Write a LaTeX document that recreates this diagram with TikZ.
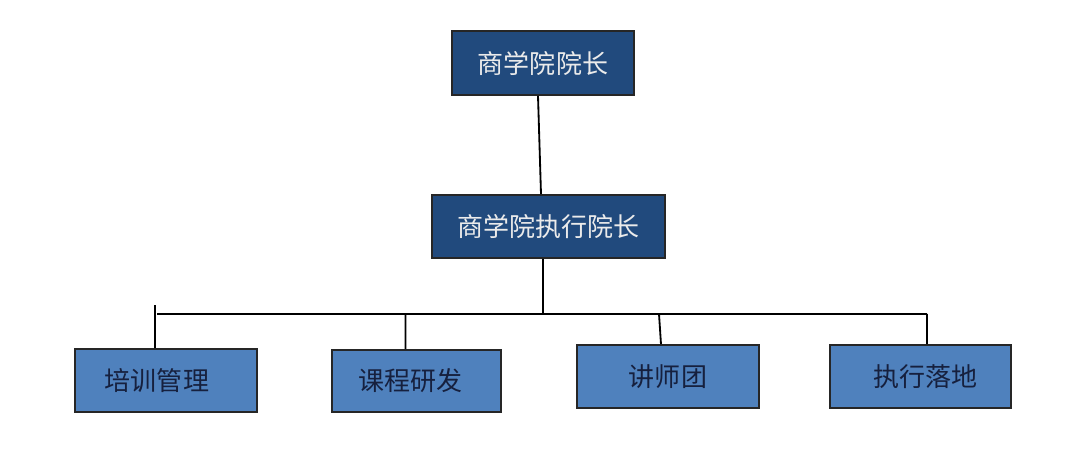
\documentclass[tikz,border=0pt]{standalone}
\usepackage{fontspec}
\newfontfamily\cjk{Noto Sans CJK SC}
\usetikzlibrary{positioning, calc}
\definecolor{darkbox}{RGB}{33,74,125}
\definecolor{lightbox}{RGB}{79,129,189}
\definecolor{navytext}{RGB}{22,32,62}
\tikzset{
  orgchart/.style={
	x=0.025cm, y=-0.025cm, % one unit is one pixel of the picture
	line width=1.3pt, % width of the connectors
	every node/.style={font=\cjk\fontsize{18.5}{20}\selectfont, inner sep=0pt},
  },
  headbox/.style={draw=black!85, line width=1.2pt, fill=darkbox, text=white!92!black, minimum height=1.6cm},
  unitbox/.style={draw=black!85, line width=1.2pt, fill=lightbox, text=navytext, minimum height=1.575cm},
}
\begin{document}
\begin{tikzpicture}[orgchart]
\useasboundingbox[fill=white] (0,0) rectangle (1080,466);
\node[headbox, minimum width=4.55cm] (dean) at (543,63) {商学院院长};
\node[headbox, minimum width=5.825cm, minimum height=1.575cm] (exec) at (548.5,226.5) {商学院执行院长};
\node[unitbox, minimum width=4.55cm] (train) at (166,380.5) {\hspace*{-0.45cm}培训管理};
\node[unitbox, minimum width=4.225cm, minimum height=1.55cm] (course) at (416.5,381) {\hspace*{-0.3cm}课程研发};
\node[unitbox, minimum width=4.55cm] (lect) at (668,376.5) {讲师团};
\node[unitbox, minimum width=4.525cm] (exe) at (920.5,376.5) {\hspace*{0.25cm}执行落地};

\coordinate (bus) at (543,314);
\coordinate (busl) at (157,314);
\coordinate (busr) at (927,314);
\coordinate (tickl) at (155,305);

\draw   ($(dean.south)+(-5,0)$) -- ($(exec.north)+(-7.5,0)$)
	(exec.south -| bus) -- (bus)
	(busl) -- (busr)
	(tickl) -- (tickl |- train.north)
	($(bus -| course.north)+(-11,0)$) -- ($(course.north)+(-11,0)$)
	($(bus -| lect.north)+(-9,0)$) -- ($(lect.north)+(-7,0)$)
	(busr) -- (busr |- exe.north)
;
\end{tikzpicture}
\end{document}
